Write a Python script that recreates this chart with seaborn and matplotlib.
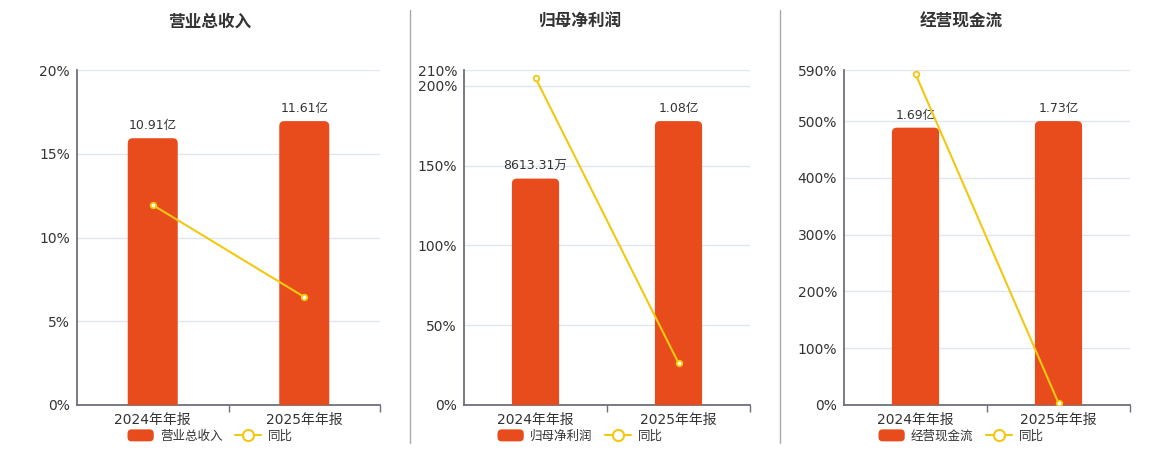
import numpy as np
import pandas as pd
import matplotlib
matplotlib.use("Agg")
import matplotlib.pyplot as plt
from matplotlib.patches import FancyBboxPatch, Patch
from matplotlib.lines import Line2D
from matplotlib.legend_handler import HandlerPatch
import seaborn as sns

sns.set_theme(style="white")
plt.rcParams['font.family'] = ['DejaVu Sans', 'Noto Sans CJK SC']

# ---------------- data ----------------
categories = ['2024年年报', '2025年年报']

titles = ['营业总收入', '归母净利润', '经营现金流']

revenue = [10.91, 11.61]
revenue_labels = ['10.91亿', '11.61亿']
revenue_yoy = [11.94, 6.45]

profit = [0.861331, 1.08]
profit_labels = ['8613.31万', '1.08亿']
profit_yoy = [205.0, 26.3]

cashflow = [1.69, 1.73]
cashflow_labels = ['1.69亿', '1.73亿']
cashflow_yoy = [583.0, 3.5]

pct_ticks = [
    [0, 5, 10, 15, 20],
    [0, 50, 100, 150, 200, 210],
    [0, 100, 200, 300, 400, 500, 590],
]
yoy_label = '同比'

# ---------------- style ----------------
BAR_COLOR = '#E84C1D'
LINE_COLOR = '#F2C811'
AXIS_COLOR = '#6E7079'
GRID_COLOR = '#E0E6F1'
TEXT_COLOR = '#333333'


class RoundHandler(HandlerPatch):
    def create_artists(self, legend, orig_handle, xdescent, ydescent,
                       width, height, fontsize, trans):
        p = FancyBboxPatch((-xdescent, -ydescent), width, height,
                           boxstyle="round,pad=0,rounding_size=3",
                           fc=orig_handle.get_facecolor(), ec='none',
                           transform=trans)
        return [p]


W, H = 1160, 450
fig = plt.figure(figsize=(W / 100, H / 100), dpi=100)

panels = [
    (revenue, revenue_labels, revenue_yoy),
    (profit, profit_labels, profit_yoy),
    (cashflow, cashflow_labels, cashflow_yoy),
]
ax_px = [(77, 380), (464, 750), (844, 1130)]
center_px = [210, 580, 961]
top_px, bot_px = 70, 405

for i, ((vals, labels, yoy), (x0, x1), cx) in enumerate(zip(panels, ax_px, center_px)):
    rect = [x0 / W, 1 - bot_px / H, (x1 - x0) / W, (bot_px - top_px) / H]
    ax = fig.add_axes(rect)           # percent axis, grid
    axb = ax.twinx()                  # bars
    axl = ax.twinx()                  # line

    ymax = pct_ticks[i][-1]
    ax.set_ylim(0, ymax)
    ax.set_yticks(pct_ticks[i])
    ax.set_yticklabels([f'{t}%' for t in pct_ticks[i]])
    ax.grid(axis='y', color=GRID_COLOR, lw=1)
    ax.set_axisbelow(True)
    for s in ['top', 'right']:
        ax.spines[s].set_visible(False)
    for s in ['left', 'bottom']:
        ax.spines[s].set_color(AXIS_COLOR)
        ax.spines[s].set_linewidth(1.3)
    ax.tick_params(axis='y', length=0, pad=5, labelsize=10, labelcolor=TEXT_COLOR)

    df = pd.DataFrame({'cat': categories, 'val': vals})
    sns.barplot(data=df, x='cat', y='val', ax=axb, color=BAR_COLOR,
                width=0.33, saturation=1, errorbar=None)
    bmax = max(vals) * 1.18
    axb.set_ylim(0, bmax)
    axb.axis('off')

    axb.set_xlim(-0.5, 1.5)
    # rounded top corners
    fig.canvas.draw()
    bbox = axb.get_window_extent()
    xpp = 2.0 / bbox.width
    ypp = bmax / bbox.height
    r_px = 5
    old = list(axb.patches)
    for k, p in enumerate(old):
        bx, bw, bh = p.get_x(), p.get_width(), p.get_height()
        r = r_px * xpp
        ry = r_px * ypp
        fb = FancyBboxPatch((bx, -ry), bw, bh + ry,
                            boxstyle=f"round,pad=0,rounding_size={r}",
                            mutation_aspect=ypp / xpp,
                            fc=BAR_COLOR, ec='none', clip_on=True)
        p.remove()
        axb.add_patch(fb)
        axb.text(bx + bw / 2, bh + 6 * ypp, labels[k], ha='center', va='bottom',
                 fontsize=9, color=TEXT_COLOR)

    dl = pd.DataFrame({'cat': categories, 'yoy': yoy})
    sns.pointplot(data=dl, x='cat', y='yoy', ax=axl, color=LINE_COLOR,
                  markers='o', markersize=4, linewidth=1.5, errorbar=None)
    for ln in axl.lines:
        ln.set_markerfacecolor('white')
        ln.set_markeredgecolor(LINE_COLOR)
        ln.set_markeredgewidth(1.3)
    axl.set_ylim(0, ymax)
    axl.axis('off')

    for a in (ax, axb, axl):
        a.set_xlim(-0.5, 1.5)
    ax.set_xticks([0, 1])
    ax.set_xticklabels(categories)
    ax.set_xticks([0.5, 1.5], minor=True)
    ax.tick_params(axis='x', which='major', length=0, pad=6, labelsize=10, labelcolor=TEXT_COLOR)
    ax.tick_params(axis='x', which='minor', length=5, width=1, color=AXIS_COLOR, direction='out', bottom=True)
    ax.set_xlabel('')
    ax.set_ylabel('')
    axb.set_xlabel('')
    axl.set_xlabel('')

    fig.text(cx / W, 1 - 22 / H, titles[i], ha='center', va='center',
             fontsize=12, fontweight='bold', color=TEXT_COLOR)

    handles = [
        Patch(facecolor=BAR_COLOR, edgecolor='none'),
        Line2D([0], [0], color=LINE_COLOR, lw=1.5, marker='o', markersize=8,
               markerfacecolor='white', markeredgecolor=LINE_COLOR, markeredgewidth=1.5),
    ]
    leg = fig.legend(handles, [titles[i], yoy_label], loc='center',
                     bbox_to_anchor=(cx / W, 1 - 436 / H), ncol=2, frameon=False,
                     fontsize=9, handlelength=2.1, handleheight=1.1,
                     columnspacing=1.0, handletextpad=0.5, labelcolor=TEXT_COLOR,
                     handler_map={Patch: RoundHandler()})

for xs in (410, 780):
    fig.add_artist(Line2D([xs / W, xs / W], [1 - 443 / H, 1 - 10 / H],
                          color='#AAAAAA', lw=1, transform=fig.transFigure))

fig.savefig('out.png', dpi=100, facecolor='white')
